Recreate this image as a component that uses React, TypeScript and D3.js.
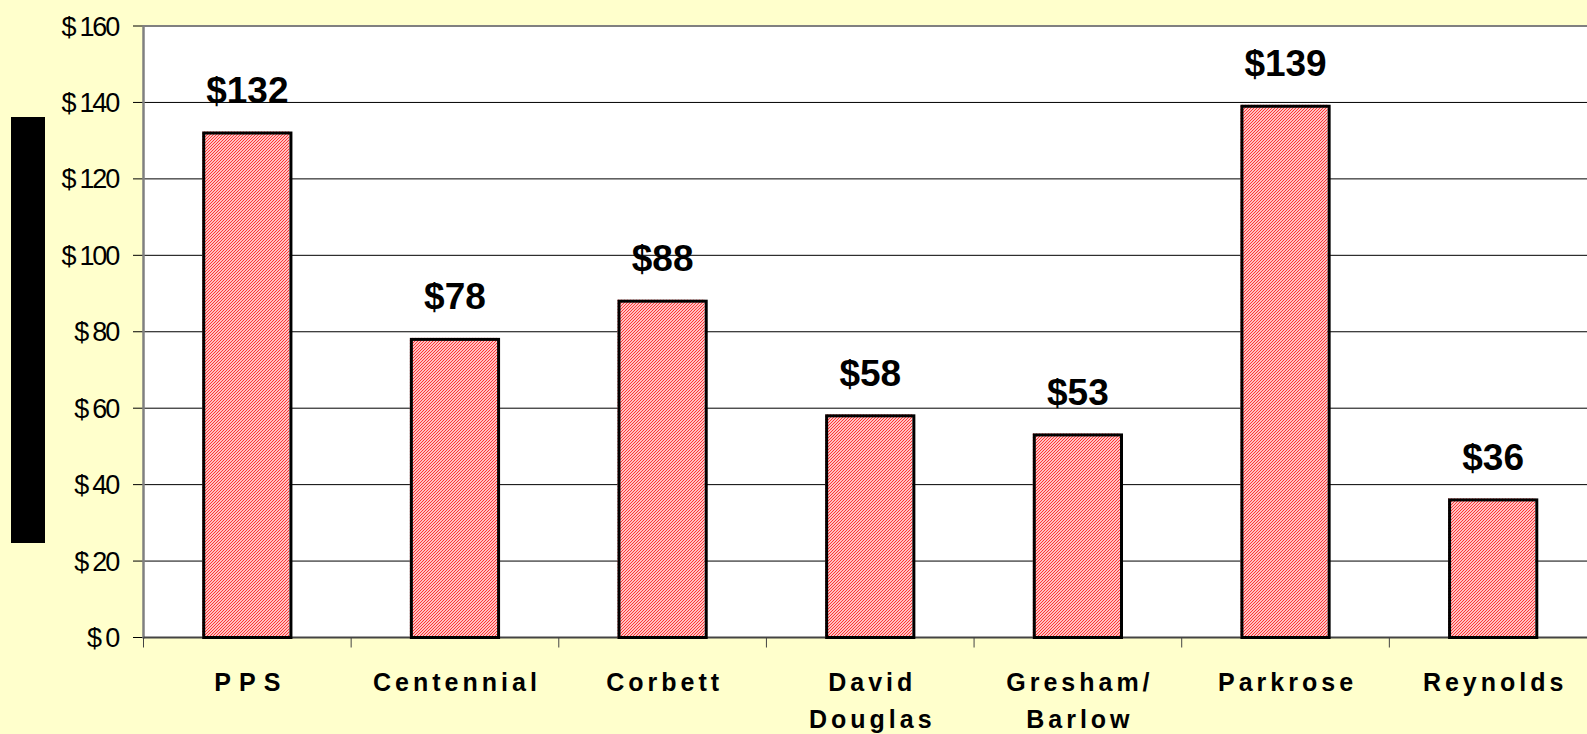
import React from "react";
import * as d3 from "d3";

const districts = ["PPS", "Centennial", "Corbett", "David Douglas", "Gresham/ Barlow", "Parkrose", "Reynolds"];
const districtLines = [["PPS"], ["Centennial"], ["Corbett"], ["David", "Douglas"], ["Gresham/", "Barlow"], ["Parkrose"], ["Reynolds"]];
const amounts = [132, 78, 88, 58, 53, 139, 36];
const yTicks = [0, 20, 40, 60, 80, 100, 120, 140, 160];

const W = 1587;
const H = 734;
const FONT = "'Liberation Sans', Arial, sans-serif";

export default function App() {
  const left = 143.5;
  const right = 1597;
  const top = 26;
  const bottom = 637.5;

  const x = d3
    .scaleBand<string>()
    .domain(districts)
    .range([left, right])
    .paddingInner(0.58)
    .paddingOuter(0.29);

  const y = d3.scaleLinear().domain([0, 160]).range([bottom, top]);

  const step = x.step();
  const bw = x.bandwidth();
  // band boundaries for the category tick marks
  const boundaries = districts.map((_, i) => left + i * step);

  return (
    <svg
      width={W}
      height={H}
      style={{ display: "block", position: "absolute", left: 0, top: 0 }}
    >
      <defs>
        <pattern id="hatch" width="3" height="3" patternUnits="userSpaceOnUse">
          <rect width="3" height="3" fill="#ffffff" />
          <path d="M-1,1 L1,-1 M0,3 L3,0 M2,4 L4,2" stroke="#ff2a2a" strokeWidth="1.1" />
        </pattern>
      </defs>
      <rect x={0} y={0} width={W} height={H} fill="#ffffcc" />

      {/* y axis title block */}
      <rect x={11} y={117} width={34} height={426} fill="#000" />

      {/* plot area */}
      <rect x={left} y={top} width={right - left} height={bottom - top} fill="#fff" />

      {yTicks.map((t) => (
        <g key={t}>
          <line
            x1={left}
            x2={right}
            y1={y(t)}
            y2={y(t)}
            stroke={t === 160 ? "#808080" : "#000"}
            strokeWidth={t === 160 ? 2 : 1}
          />
          <line x1={133} x2={left} y1={y(t)} y2={y(t)} stroke="#000" strokeWidth={1} />
          <text
            x={118}
            y={y(t) + 9.5}
            textAnchor="end"
            fontFamily={FONT}
            fontSize={27}
            letterSpacing={-2.2}
            fill="#000"
          >
            {"$ " + t}
          </text>
        </g>
      ))}

      {/* axes */}
      <line x1={left} x2={left} y1={top - 1} y2={bottom + 1} stroke="#808080" strokeWidth={2.5} />
      <line x1={left} x2={right} y1={bottom} y2={bottom} stroke="#444" strokeWidth={2} />
      {boundaries.map((b, i) => (
        <line key={i} x1={b} x2={b} y1={bottom} y2={bottom + 10} stroke="#444" strokeWidth={1} />
      ))}

      {/* bars */}
      {districts.map((d, i) => {
        const bx = x(d) as number;
        const by = y(amounts[i]);
        return (
          <g key={d}>
            <rect x={bx - 1.5} y={by - 1.5} width={bw} height={bottom - by + 1.5} fill="url(#hatch)" />
            <rect
              x={bx}
              y={by}
              width={bw}
              height={bottom - by}
              fill="none"
              stroke="#000"
              strokeWidth={3}
            />
            <text
              x={bx + bw / 2}
              y={by - 30}
              textAnchor="middle"
              fontFamily={FONT}
              fontWeight="bold"
              fontSize={37}
              fill="#000"
            >
              {"$" + amounts[i]}
            </text>
          </g>
        );
      })}

      {/* category labels */}
      {districts.map((d, i) => {
        const ls = d === "PPS" ? 8 : 4;
        const cx = (x(d) as number) + bw / 2 + ls / 2;
        return (
          <text
            key={d}
            x={cx}
            y={691}
            textAnchor="middle"
            fontFamily={FONT}
            fontWeight="bold"
            fontSize={25}
            letterSpacing={ls}
            fill="#000"
          >
            {districtLines[i].map((line, j) => (
              <tspan key={j} x={cx} dy={j === 0 ? 0 : 37}>
                {line}
              </tspan>
            ))}
          </text>
        );
      })}
    </svg>
  );
}
